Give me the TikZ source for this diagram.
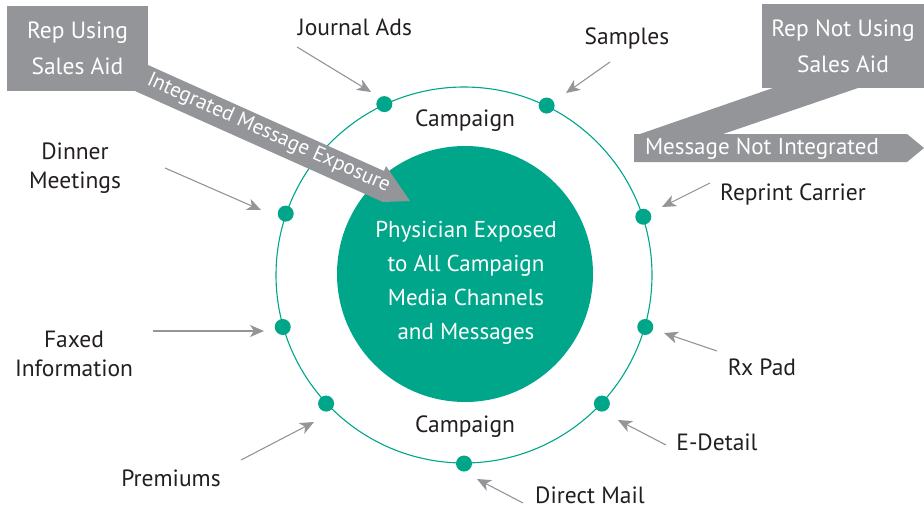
\documentclass[tikz,border=0pt]{standalone}
\usepackage{fontspec}
\setmainfont{PT Sans}
\usetikzlibrary{arrows.meta}
\definecolor{campgreen}{HTML}{00A68A}
\definecolor{repgray}{HTML}{939598}
\definecolor{ink}{HTML}{231F20}
\begin{document}
\begin{tikzpicture}[x=1pt,y=-1pt,
  lbl/.style={text=ink, align=center, inner sep=0pt, font=\fontsize{23.5}{29}\selectfont},
  boxtext/.style={text=white, align=center, font=\fontsize{23.5}{36}\selectfont},
  bandtext/.style={text=white, inner sep=0pt, font=\fontsize{23}{24}\selectfont},
  dot/.style={circle, fill=campgreen, minimum size=16pt, inner sep=0pt},
  pointer/.style={draw=repgray, line width=1.1pt,
    -{Stealth[length=14pt, width=12pt, inset=4pt]}}]
\useasboundingbox (0,0) rectangle (924,509);
\fill[white] (0,0) rectangle (924,509);

% outer campaign ring and the physician core
\node[circle, draw=campgreen, line width=1.1pt, minimum size=376pt, inner sep=0pt] (ring) at (464,275) {};
\node[circle, fill=campgreen, minimum size=256pt, inner sep=0pt] (core) at (465,274) {};
\node[text=white, align=center, font=\fontsize{23}{34}\selectfont] (coretext) at (466,283)
  {Physician Exposed\\to All Campaign\\Media Channels\\and Messages};

\node[lbl] (camptop) at (465,121) {Campaign};
\node[lbl] (campbot) at (465,427) {Campaign};

% channel dots on the ring
\node[dot] (djournal) at (ring.115.1) {};
\node[dot] (dsamples) at (ring.64.9) {};
\node[dot] (dreprint) at (ring.18.4) {};
\node[dot] (drx)      at (ring.-16.8) {};
\node[dot] (dedetail) at (ring.-43.5) {};
\node[dot] (ddirect)  at (ring.-90) {};
\node[dot] (dprem)    at (ring.223.7) {};
\node[dot] (dfaxed)   at (ring.196.1) {};
\node[dot] (ddinner)  at (ring.161) {};

% channel labels
\node[lbl] (ljournal) at (355,27) {Journal Ads};
\node[lbl] (lsamples) at (627,38) {Samples};
\node[lbl] (lreprint) at (793,194) {Reprint Carrier};
\node[lbl] (lrx)      at (762,367) {Rx Pad};
\node[lbl] (ledetail) at (717,442) {E-Detail};
\node[lbl] (ldirect)  at (590,495.5) {Direct Mail};
\node[lbl] (lprem)    at (171,478) {Premiums};
\node[lbl] (lfaxed)   at (74,354) {Faxed\\Information};
\node[lbl] (ldinner)  at (75,168) {Dinner\\Meetings};

% pointer ends
\coordinate (tjournal) at (297,47);  \coordinate (hjournal) at (371,92);
\coordinate (tsamples) at (610,62);  \coordinate (hsamples) at (566,93);
\coordinate (treprint) at (710,183); \coordinate (hreprint) at (662,207);
\coordinate (trx)      at (717,351); \coordinate (hrx)      at (664,333);
\coordinate (tedetail) at (666,445); \coordinate (hedetail) at (618,420);
\coordinate (tdirect)  at (523,503); \coordinate (hdirect)  at (477,479);
\coordinate (tprem)    at (241,460); \coordinate (hprem)    at (314,422);
\coordinate (tfaxed)   at (153,331); \coordinate (hfaxed)   at (264,331);
\coordinate (tdinner)  at (165,168); \coordinate (hdinner)  at (261,210);

\draw[pointer] (tjournal) -- (hjournal);
\draw[pointer] (tsamples) -- (hsamples);
\draw[pointer] (treprint) -- (hreprint);
\draw[pointer] (trx) -- (hrx);
\draw[pointer] (tedetail) -- (hedetail);
\draw[pointer] (tdirect) -- (hdirect);
\draw[pointer] (tprem) -- (hprem);
\draw[pointer] (tfaxed) -- (hfaxed);
\draw[pointer] (tdinner) -- (hdinner);

% rep using sales aid: integrated exposure band
\fill[repgray] (148,65) -- (384,171) -- (386,166) -- (410,201) -- (383,202) -- (135,91) -- cycle;
\node[fill=repgray, minimum width=141pt, minimum height=85pt, inner sep=0pt, boxtext] (repusing) at (77.5,48.5) {Rep Using\\Sales Aid};
\node[bandtext, rotate=-24.1, font=\fontsize{21}{22}\selectfont] (flowin) at (268.5,133.5) {Integrated Message Exposure};

% rep not using sales aid: message bypasses the core
\fill[repgray] (773,88) -- (858,88) -- (723,134) -- (640,134) -- cycle;
\fill[repgray] (634,134) -- (907,134) -- (924,148) -- (907,162) -- (634,162) -- cycle;
\node[fill=repgray, minimum width=162pt, minimum height=84pt, inner sep=0pt, boxtext] (repnot) at (843,46) {Rep Not Using\\Sales Aid};
\node[bandtext] (flowout) at (762,149) {Message Not Integrated};
\end{tikzpicture}
\end{document}
